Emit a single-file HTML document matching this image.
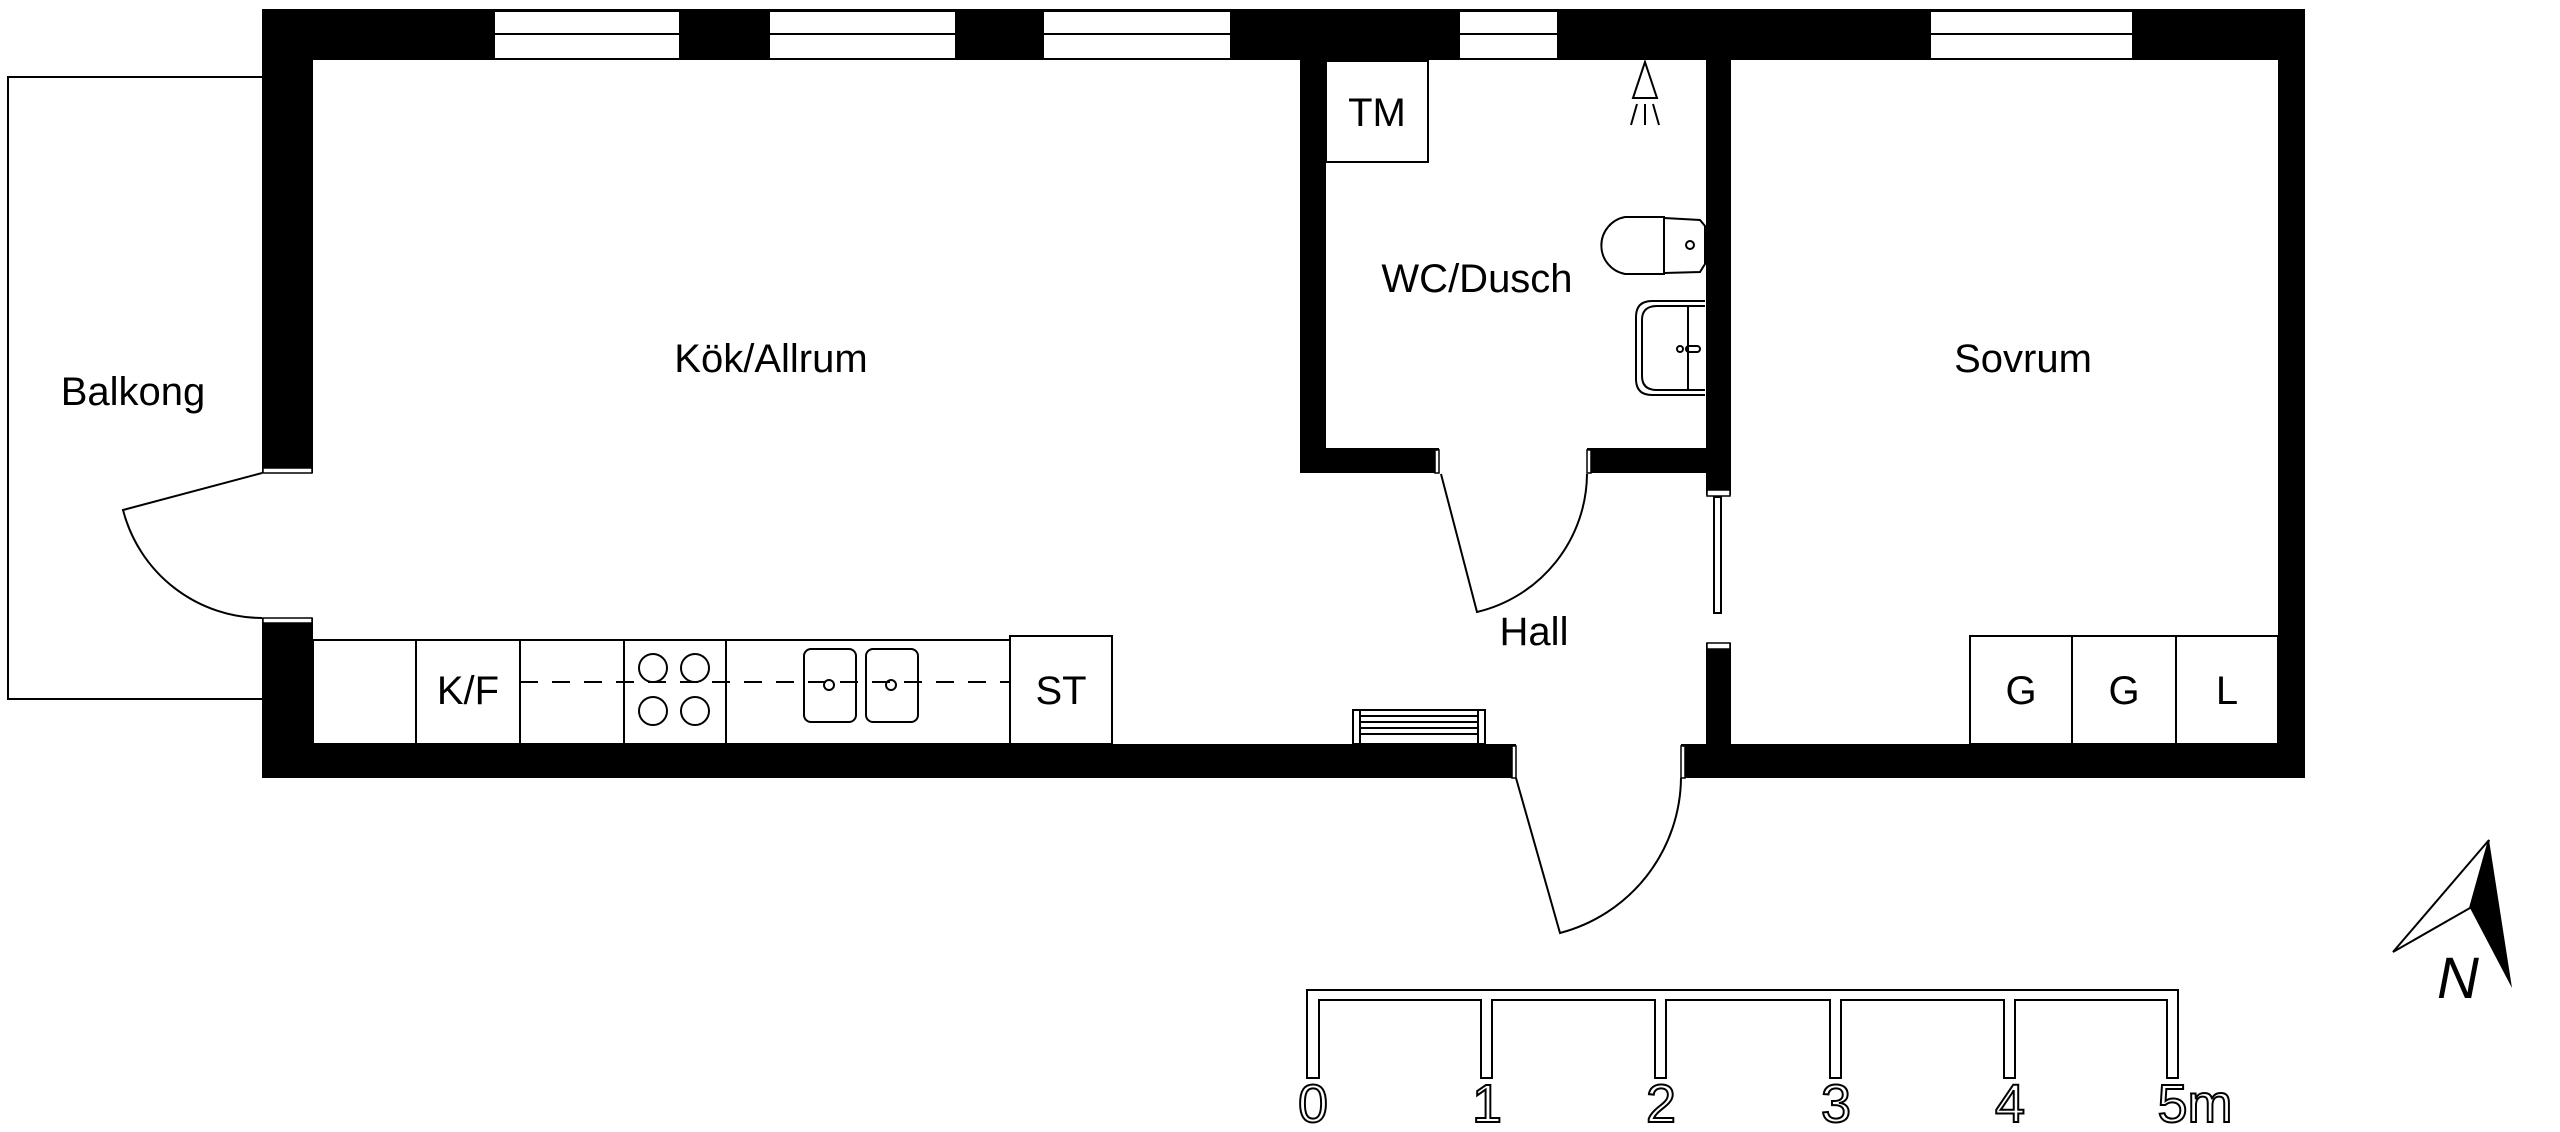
<!DOCTYPE html>
<html><head><meta charset="utf-8"><style>html,body{margin:0;padding:0;background:#fff}svg{display:block}</style></head><body>
<svg width="2560" height="1132" viewBox="0 0 2560 1132" xmlns="http://www.w3.org/2000/svg" font-family="Liberation Sans, sans-serif">
<path d="M262 77 L8 77 L8 699 L262 699" fill="none" stroke="#000" stroke-width="2"/>
<g fill="#000">
<rect x="262" y="9" width="2043" height="51"/>
<rect x="262" y="9" width="51" height="464"/>
<rect x="262" y="618" width="51" height="160"/>
<rect x="262" y="744" width="1254" height="34"/>
<rect x="1681" y="744" width="624" height="34"/>
<rect x="2278" y="9" width="27" height="769"/>
<rect x="1300" y="60" width="26" height="413"/>
<rect x="1300" y="448" width="139" height="25"/>
<rect x="1587" y="448" width="144" height="25"/>
<rect x="1706" y="60" width="25" height="435"/>
<rect x="1706" y="643" width="25" height="101"/>
</g>
<g fill="#fff" stroke="#000" stroke-width="1.5">
<rect x="263" y="468" width="49" height="5"/>
<rect x="263" y="618" width="49" height="5"/>
<rect x="1707" y="490" width="23" height="6"/>
<rect x="1707" y="643" width="23" height="6"/>
<rect x="1512" y="746" width="4" height="32"/>
<rect x="1681" y="746" width="4" height="32"/>
<rect x="1435" y="450" width="4" height="23"/>
<rect x="1587" y="450" width="4" height="23"/>
</g>
<g fill="#fff" stroke="#000" stroke-width="2">
<rect x="494" y="11" width="186" height="48"/><line x1="494" y1="34" x2="680" y2="34"/>
<rect x="769" y="11" width="187" height="48"/><line x1="769" y1="34" x2="956" y2="34"/>
<rect x="1043" y="11" width="188" height="48"/><line x1="1043" y1="34" x2="1231" y2="34"/>
<rect x="1459" y="11" width="99" height="48"/><line x1="1459" y1="34" x2="1558" y2="34"/>
<rect x="1930" y="11" width="203" height="48"/><line x1="1930" y1="34" x2="2133" y2="34"/>
</g>
<g fill="none" stroke="#000" stroke-width="2">
<path d="M262 473 L123 510 A144 144 0 0 0 262 618"/>
<path d="M1441 474 L1477 612 A143 143 0 0 0 1587 474"/>
<path d="M1516 778 L1560 933 A162 162 0 0 0 1681 778"/>
<rect x="1714" y="497" width="7" height="116"/>
<rect x="313" y="640" width="697" height="104"/>
<line x1="416" y1="640" x2="416" y2="744"/><line x1="520" y1="640" x2="520" y2="744"/>
<line x1="624" y1="640" x2="624" y2="744"/><line x1="726" y1="640" x2="726" y2="744"/>
<rect x="1010" y="636" width="102" height="108"/>
<line x1="520" y1="682" x2="1010" y2="682" stroke-dasharray="18 14"/>
<circle cx="653" cy="668" r="14"/><circle cx="695" cy="668" r="14"/>
<circle cx="653" cy="711" r="14"/><circle cx="695" cy="711" r="14"/>
<rect x="804" y="649" width="52" height="73" rx="7"/><rect x="866" y="649" width="52" height="73" rx="7"/>
<circle cx="829" cy="685" r="5"/><circle cx="891" cy="685" r="5"/>
<rect x="1326" y="61" width="102" height="101"/>
<path d="M1645 62 L1633 98 L1657 98 Z"/>
<line x1="1645" y1="104" x2="1645" y2="125"/><line x1="1637" y1="104" x2="1631" y2="125"/><line x1="1653" y1="104" x2="1659" y2="125"/>
<path d="M1664 217 L1625 217 A29 29 0 0 0 1625 274 L1664 274 Z"/>
<path d="M1664 218 L1700 220 L1705 226 L1705 264 L1700 272 L1664 273"/>
<circle cx="1690" cy="245" r="4"/>
<path d="M1705 301 L1652 301 Q1636 301 1636 317 L1636 379 Q1636 395 1652 395 L1705 395"/>
<path d="M1705 306 L1657 306 Q1642 306 1642 320 L1642 376 Q1642 390 1657 390 L1705 390"/>
<line x1="1688" y1="306" x2="1688" y2="390"/>
<circle cx="1680" cy="349" r="3"/><rect x="1686" y="346" width="14" height="6" rx="3"/>
<rect x="1970" y="636" width="308" height="108"/>
<line x1="2072" y1="636" x2="2072" y2="744"/><line x1="2176" y1="636" x2="2176" y2="744"/>
<rect x="1353" y="710" width="132" height="34"/>
<line x1="1360" y1="716" x2="1478" y2="716"/><line x1="1360" y1="722" x2="1478" y2="722"/>
<line x1="1360" y1="728" x2="1478" y2="728"/><line x1="1360" y1="734" x2="1478" y2="734"/>
<line x1="1360" y1="710" x2="1360" y2="744"/><line x1="1478" y1="710" x2="1478" y2="744"/>
<path d="M1307 1078 L1307 990 L2178 990 L2178 1078 L2167 1078 L2167 1000 L2015 1000 L2015 1078 L2004 1078 L2004 1000 L1841 1000 L1841 1078 L1830 1078 L1830 1000 L1666 1000 L1666 1078 L1655 1078 L1655 1000 L1492 1000 L1492 1078 L1481 1078 L1481 1000 L1319 1000 L1319 1078 Z"/>
</g>
<path d="M2489 840 L2393 952 L2470 908 Z" fill="#fff" stroke="#000" stroke-width="2"/>
<path d="M2489 840 L2470 908 L2512 988 Z" fill="#000"/>
<text x="2458" y="998" font-size="58" font-style="italic" text-anchor="middle" fill="#000">N</text>
<g font-size="40" fill="#000" text-anchor="middle">
<text x="771" y="372">Kök/Allrum</text>
<text x="133" y="405">Balkong</text>
<text x="1477" y="292">WC/Dusch</text>
<text x="2023" y="372">Sovrum</text>
<text x="1534" y="645">Hall</text>
<text x="1377" y="126">TM</text>
<text x="468" y="704">K/F</text>
<text x="1061" y="704">ST</text>
<text x="2021" y="704">G</text>
<text x="2124" y="704">G</text>
<text x="2227" y="704">L</text>
</g>
<g font-size="54" fill="#fff" stroke="#000" stroke-width="2" text-anchor="middle">
<text x="1313" y="1122">0</text>
<text x="1487" y="1122">1</text>
<text x="1661" y="1122">2</text>
<text x="1836" y="1122">3</text>
<text x="2010" y="1122">4</text>
<text x="2195" y="1122">5m</text>
</g>
</svg>
</body></html>
